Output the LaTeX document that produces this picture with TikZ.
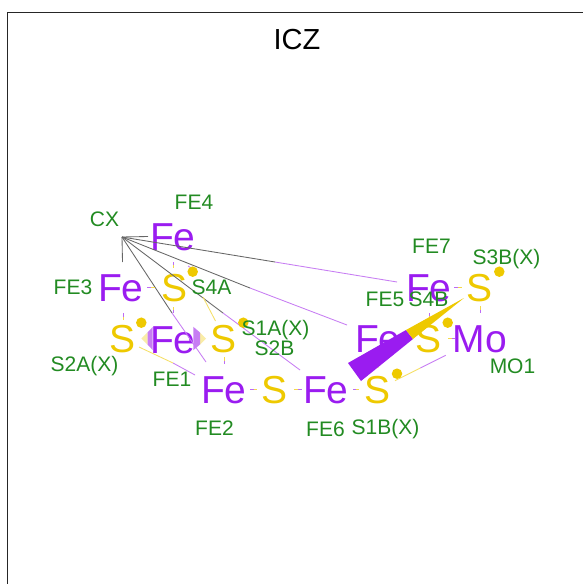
\documentclass[tikz,border=0pt]{standalone}
\usepackage{fontspec}
\setmainfont{Liberation Sans}
\definecolor{fepurple}{HTML}{9A1CF0}
\definecolor{sgold}{HTML}{EEC900}
\definecolor{lblgreen}{HTML}{228B22}
\definecolor{bondpurple}{HTML}{C77DF3}
\tikzset{
  atom/.style={inner sep=0pt,font=\fontsize{39}{39}\selectfont},
  featom/.style={atom,text=fepurple},
  satom/.style={atom,text=sgold},
  lbl/.style={inner sep=0pt,text=lblgreen,font=\fontsize{21}{21}\selectfont},
  gbond/.style={draw=black!60,line width=0.85pt},
  pbond/.style={draw=bondpurple,line width=0.85pt},
  ybond/.style={draw=sgold!60,line width=0.85pt},
  tickp/.style={draw=fepurple!65,line width=0.85pt},
  ticky/.style={draw=sgold!70,line width=0.85pt},
  dot/.style={circle,fill=sgold,inner sep=0pt,minimum size=10.5pt}
}
\begin{document}
\begin{tikzpicture}[x=1pt,y=-1pt]
\useasboundingbox (0,0) rectangle (583,584);
\fill[white] (0,0) rectangle (583,584);
\draw[line width=1pt,black!85] (7.5,584) -- (7.5,12.5) -- (583,12.5);
\node[inner sep=0pt,font=\fontsize{29}{29}\selectfont] (title) at (297,39.5) {ICZ};
% Fe1 wedges (behind the Fe text)
\fill[sgold!35] (141.3,338.5) -- (147.7,332.2) -- (147.7,344.8) -- cycle;
\fill[bondpurple] (147.7,332.2) -- (152.7,327) -- (152.7,350) -- (147.7,344.8) -- cycle;
\fill[sgold!35] (206,338.5) -- (200,332.5) -- (200,344.5) -- cycle;
\fill[bondpurple] (200,332.5) -- (193.3,326.8) -- (193.3,350.2) -- (200,344.5) -- cycle;
% atoms
\coordinate (CX) at (122,237);
\node[featom] (fe4) at (172.8,237) {Fe};
\node[featom] (fe3) at (120.8,288) {Fe};
\node[satom] (s4a) at (174.8,288) {S};
\node[satom] (s2a) at (122.8,339) {S};
\node[featom] (fe1) at (172.8,340) {Fe};
\node[satom] (s1a) at (223.8,339) {S};
\node[featom] (fe2) at (223.8,390) {Fe};
\node[satom] (s2b) at (274.8,390) {S};
\node[featom] (fe6) at (325.8,390) {Fe};
\node[satom] (s1b) at (377.8,390) {S};
\node[featom] (fe5) at (377.8,339) {Fe};
\node[satom] (s4b) at (428.8,339) {S};
\node[featom] (mo1) at (479.8,339) {Mo};
\node[featom] (fe7) at (428.8,288) {Fe};
\node[satom] (s3b) at (479.8,288) {S};
% CX bonds
\draw[gbond] (CX) -- (148,236.5);
\draw[gbond] (CX) -- (122.5,262);
\draw[gbond] (CX) -- (172,313);
\draw[pbond] (172,313) -- (206,362);
\draw[gbond] (CX) -- (223,313);
\draw[pbond] (223,313) -- (300,370);
\draw[gbond] (CX) -- (250,288);
\draw[pbond] (250,288) -- (347,325);
\draw[gbond] (CX) -- (275,262);
\draw[pbond] (275,262) -- (397,282);
% long thin two-colour bonds
\draw[ybond] (139,347) -- (173,363);
\draw[pbond] (173,363) -- (195,375);
\draw[ybond] (215.5,321) -- (203,297);
\draw[pbond] (193,269) -- (188,266);
\draw[ybond] (395,380.7) -- (420.4,368);
\draw[pbond] (420.4,368) -- (445.7,355.3);
% short ticks
\draw[tickp] (173.5,262) -- (173.5,265); \draw[ticky] (173.5,265) -- (173.5,268);
\draw[ticky] (173.5,307) -- (173.5,310); \draw[tickp] (173.5,310) -- (173.5,313);
\draw[tickp] (147,287) -- (151,287); \draw[ticky] (151,287) -- (155,287);
\draw[tickp] (123,313) -- (123,316.5); \draw[ticky] (123,316.5) -- (123,320);
\draw[ticky] (224,357) -- (224,360.5); \draw[tickp] (224,360.5) -- (224,364);
\draw[tickp] (250,389) -- (253.5,389); \draw[ticky] (253.5,389) -- (257,389);
\draw[ticky] (294,389) -- (298,389); \draw[tickp] (298,389) -- (302,389);
\draw[tickp] (353,389) -- (356,389); \draw[ticky] (356,389) -- (359,389);
\draw[tickp] (403,338) -- (407,338); \draw[ticky] (407,338) -- (411,338);
\draw[ticky] (448,338) -- (451.5,338); \draw[tickp] (451.5,338) -- (455,338);
\draw[tickp] (454,287) -- (458,287); \draw[ticky] (458,287) -- (462,287);
\draw[ticky] (480,306) -- (480,309.5); \draw[tickp] (480,309.5) -- (480,313);
\draw[tickp] (429,313) -- (429,315.5); \draw[ticky] (429,315.5) -- (429,318);
\draw[ticky] (377,363) -- (378,368);
% large wedge
\fill[fepurple] (348,363) -- (361,381) -- (413,339) -- (406,330) -- cycle;
\fill[sgold] (406,330) -- (413,339) -- (464,298) -- cycle;
% dots
\node[dot] (d1) at (192.7,271.7) {};
\node[dot] (d2) at (141.3,322.7) {};
\node[dot] (d3) at (243.3,322.7) {};
\node[dot] (d4) at (447.7,322.7) {};
\node[dot] (d5) at (499.3,271.7) {};
\node[dot] (d6) at (397,373.7) {};
% labels
\node[lbl] (lfe4) at (194,202.5) {FE4};
\node[lbl] (lcx) at (104.5,219.5) {CX};
\node[lbl] (lfe3) at (73,287.5) {FE3};
\node[lbl] (ls4a) at (211.5,287.5) {S4A};
\node[lbl] (ls1a) at (275.5,330.5) {S1A(X)};
\node[lbl] (ls2b) at (274.5,348.5) {S2B};
\node[lbl] (ls2a) at (84.5,366.5) {S2A(X)};
\node[lbl] (lfe1) at (172,379.5) {FE1};
\node[lbl] (lfe2) at (214.5,428.5) {FE2};
\node[lbl] (lfe6) at (325.5,429.5) {FE6};
\node[lbl] (ls1b) at (385.5,429.5) {S1B(X)};
\node[lbl] (lmo1) at (512.5,366.5) {MO1};
\node[lbl] (lfe5) at (385,299.5) {FE5};
\node[lbl] (ls4b) at (428.5,299.5) {S4B};
\node[lbl] (lfe7) at (431.5,246.5) {FE7};
\node[lbl] (ls3b) at (506.5,259.5) {S3B(X)};
\end{tikzpicture}
\end{document}
